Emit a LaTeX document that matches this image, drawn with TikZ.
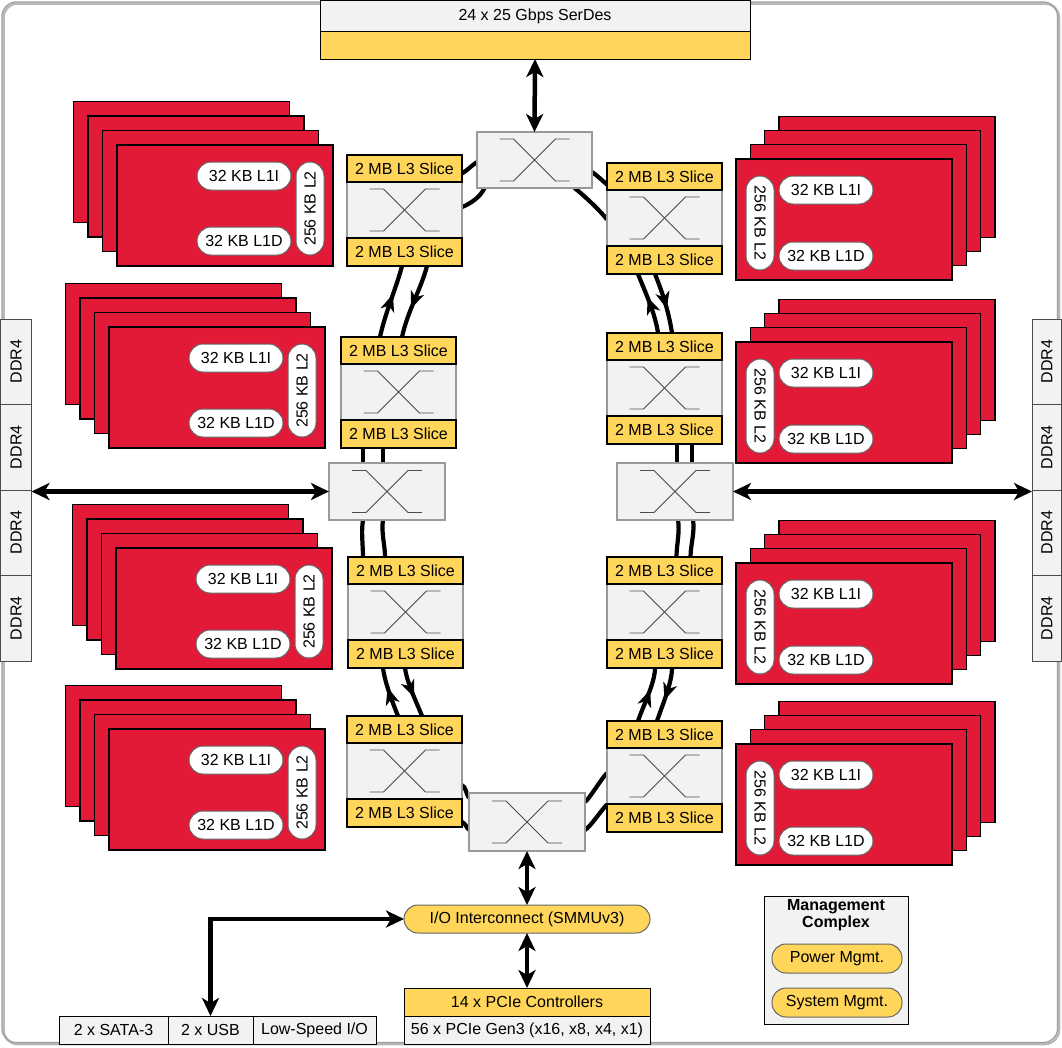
\documentclass[tikz,border=0pt]{standalone}
\usepackage{fontspec}
\setmainfont{Liberation Sans}
\usetikzlibrary{arrows.meta,decorations.markings,calc}
\pgfdeclarelayer{background}
\pgfsetlayers{background,main}
\definecolor{cred}{HTML}{E31A37}
\definecolor{cyel}{HTML}{FFD55A}
\definecolor{cgry}{HTML}{F2F2F2}
\definecolor{cbrd}{HTML}{9A9A9A}
\tikzset{
 base/.style={inner sep=0pt, outer sep=0pt, font=\fontsize{16}{19}\selectfont},
 slicebox/.style={base, draw=black, line width=1.2pt, fill=cyel, minimum width=115pt, minimum height=27pt, anchor=north west},
 swbox/.style={base, draw=cbrd, line width=1.5pt, fill=cgry, anchor=north west},
 corebox/.style={draw=black, line width=1.2pt, fill=cred},
 pill/.style={base, draw=black!60, line width=1pt, fill=white, rounded corners=14pt, minimum width=94pt, minimum height=28pt},
 xline/.style={draw=black!70, line width=0.9pt},
 ring/.style={line width=4.2pt},
 ringarr/.style={ring, postaction={decorate}, decoration={markings, mark=at position 0.6 with {\arrow{Stealth[length=17pt,width=14pt,inset=5pt]}}}},
 bigarr/.style={line width=4.5pt, {Stealth[length=18pt,width=17pt,inset=5pt]}-{Stealth[length=18pt,width=17pt,inset=5pt]}},
 graybox/.style={base, draw=black, line width=1pt, fill=cgry, anchor=north west},
 yelbox/.style={base, draw=black, line width=1pt, fill=cyel, anchor=north west},
 ddr/.style={base, draw=black!70, line width=1pt, fill=cgry, anchor=north west, minimum height=85.5pt},
 yelpill/.style={base, draw=black!60, line width=1pt, fill=cyel, rounded corners=14pt},
}
\newcommand\xsym[1]{%
  \draw[xline] ([shift={(-35,-21)}]#1.center) -- ++(14,0) -- ++(42,42) -- ++(14,0);
  \draw[xline] ([shift={(-35,21)}]#1.center) -- ++(14,0) -- ++(42,-42) -- ++(14,0);
}
\newcommand\slblock[3]{%
  \node[swbox, minimum width=115pt, minimum height=56pt] (#1s) at (#2,#3+27) {};
  \xsym{#1s}
  \node[slicebox] (#1t) at (#2,#3) {2 MB L3 Slice};
  \node[slicebox, minimum height=28pt] (#1b) at (#2,#3+83) {2 MB L3 Slice};
}
\newcommand\coreL[3]{%
  \foreach \k in {3,2,1}{\draw[corebox] ({#2-\k*14.5},{#3-\k*14.5}) rectangle ++(216,121);}
  \node[base, draw=black, line width=1.2pt, fill=cred, anchor=north west, minimum width=216pt, minimum height=121pt] (#1) at (#2,#3) {};
  \node[pill] (#1i) at (#2+127,#3+31) {32 KB L1I};
  \node[pill] (#1d) at (#2+127,#3+96) {32 KB L1D};
  \node[pill, minimum width=93pt, rotate=90] (#1l) at (#2+193,#3+63.5) {256 KB L2};
}
\newcommand\coreR[3]{%
  \foreach \k in {3,2,1}{\draw[corebox] ({#2+\k*14.3},{#3-\k*14.3}) rectangle ++(216,121);}
  \node[base, draw=black, line width=1.2pt, fill=cred, anchor=north west, minimum width=216pt, minimum height=121pt] (#1) at (#2,#3) {};
  \node[pill] (#1i) at (#2+90,#3+31) {32 KB L1I};
  \node[pill] (#1d) at (#2+90,#3+97) {32 KB L1D};
  \node[pill, minimum width=94pt, rotate=-90] (#1l) at (#2+24,#3+64) {256 KB L2};
}
\begin{document}
\begin{tikzpicture}[x=1pt,y=-1pt]
\useasboundingbox (0,0) rectangle (1062,1047);
% frame
\draw[gray!55, line width=2.5pt, rounded corners=14pt] (3.5,3.5) rectangle (1059,1044);
\draw[gray!75, line width=1.2pt, rounded corners=14pt] (2,2) rectangle (1057.5,1042.5);
% SerDes
\node[graybox, minimum width=430pt, minimum height=31pt] (sdt) at (320,0.5) {24 x 25 Gbps SerDes};
\node[yelbox, minimum width=430pt, minimum height=27.5pt] (sdb) at (320,31.5) {};
% switches
\node[swbox, minimum width=115pt, minimum height=56pt] (ts) at (477,132) {}; \xsym{ts}
\node[swbox, minimum width=116pt, minimum height=57pt] (ls) at (329,463) {}; \xsym{ls}
\node[swbox, minimum width=116pt, minimum height=57pt] (rs) at (617,463) {}; \xsym{rs}
\node[swbox, minimum width=116pt, minimum height=58pt] (bs) at (469,793) {}; \xsym{bs}
% slice blocks
\slblock{L1}{347}{155}
\slblock{L2}{341}{337}
\slblock{L3}{348}{557}
\slblock{L4}{347}{716}
\slblock{R1}{607}{163}
\slblock{R2}{607}{333}
\slblock{R3}{607}{557}
\slblock{R4}{607}{721}
% cores
\coreL{CLA}{117}{145}
\coreL{CLB}{109}{327}
\coreL{CLC}{116}{548}
\coreL{CLD}{109}{729}
\coreR{CRA}{736}{159}
\coreR{CRB}{736}{342}
\coreR{CRC}{736}{563}
\coreR{CRD}{736}{744}
% DDR4
\foreach \i in {0,...,3}{
  \node[ddr, minimum width=31pt] (ddrL\i) at (0.5,{319+\i*85.5}) {\rotatebox{90}{DDR4}};
  \node[ddr, minimum width=29.5pt] (ddrR\i) at (1032,{319+\i*85.5}) {\rotatebox{90}{DDR4}};
}
% ring
\begin{pgfonlayer}{background}
\draw[ring] ([shift={(0,2)}]ts.west) .. controls +(-6,4) and +(5,-3) .. ([shift={(0,5)}]L1t.east);
\draw[ring] ([shift={(-50,0)}]ts.south) .. controls +(-4,9) and +(8,-3) .. ([shift={(0,-3)}]L1s.east);
\draw[ring] ([shift={(0,12)}]ts.east) .. controls +(6,4) and +(-5,-4) .. ([shift={(0,8)}]R1t.west);
\draw[ring] ([shift={(40,0)}]ts.south) .. controls +(8,6) and +(-6,-8) .. ([shift={(0,1.5)}]R1s.west);
\draw[ringarr] ([shift={(-18.5,0)}]L2t.north) .. controls +(6,-27) and +(-6,23) .. ([shift={(-2.5,0)}]L1b.south);
\draw[ringarr] ([shift={(22.5,0)}]L1b.south) .. controls +(-6,23) and +(6,-27) .. ([shift={(3.5,0)}]L2t.north);
\draw[ring] ([shift={(-35.5,0)}]L2b.south) -- ([shift={(-24,0)}]ls.north);
\draw[ring] ([shift={(-15.5,0)}]L2b.south) -- ([shift={(-4,0)}]ls.north);
\draw[ring] ([shift={(-24,0)}]ls.south) .. controls +(-2,12) and +(0,-12) .. ([shift={(-42.5,0)}]L3t.north);
\draw[ring] ([shift={(-4,0)}]ls.south) .. controls +(-2,12) and +(0,-12) .. ([shift={(-20.5,0)}]L3t.north);
\draw[ringarr] ([shift={(-6.5,0)}]L4t.north) .. controls +(-6,-15) and +(2,15) .. ([shift={(-22.5,0)}]L3b.south);
\draw[ringarr] ([shift={(-0.5,0)}]L3b.south) .. controls +(2,15) and +(-6,-15) .. ([shift={(17.5,0)}]L4t.north);
\draw[ring] ([shift={(0,14)}]L4s.east) .. controls +(4,2) and +(-3,-4) .. ([shift={(0,5)}]bs.north west);
\draw[ring] ([shift={(0,9)}]L4b.east) .. controls +(4,2) and +(-3,-3) .. ([shift={(0,8)}]bs.west);
\draw[ring] ([shift={(0,-20)}]bs.east) .. controls +(5,-4) and +(-6,6) .. ([shift={(0,-3)}]R4s.west);
\draw[ring] ([shift={(0,8)}]bs.east) .. controls +(6,-4) and +(-6,6) .. ([shift={(0,-13.5)}]R4b.west);
\draw[ringarr] ([shift={(-26.5,0)}]R4t.north) .. controls +(5,-15) and +(0,15) .. ([shift={(-9.5,0)}]R3b.south);
\draw[ringarr] ([shift={(7.5,0)}]R3b.south) .. controls +(0,15) and +(5,-15) .. ([shift={(-7.5,0)}]R4t.north);
\draw[ring] ([shift={(12,0)}]R3t.north) .. controls +(0,-12) and +(2,12) .. ([shift={(3,0)}]rs.south);
\draw[ring] ([shift={(26,0)}]R3t.north) .. controls +(0,-12) and +(2,12) .. ([shift={(18,0)}]rs.south);
\draw[ring] ([shift={(2,0)}]rs.north) -- ([shift={(12.5,0)}]R2b.south);
\draw[ring] ([shift={(17,0)}]rs.north) -- ([shift={(27.5,0)}]R2b.south);
\draw[ringarr] ([shift={(-6.5,0)}]R2t.north) .. controls +(-3,-20) and +(8,20) .. ([shift={(-26.5,0)}]R1b.south);
\draw[ringarr] ([shift={(-9.5,0)}]R1b.south) .. controls +(8,20) and +(-3,-20) .. ([shift={(7.5,0)}]R2t.north);
\end{pgfonlayer}
% bottom
\node[yelpill, minimum width=246pt, minimum height=28pt] (io) at (527,919) {I/O Interconnect (SMMUv3)};
\node[yelbox, minimum width=246pt, minimum height=28pt] (pct) at (404,988) {14 x PCIe Controllers};
\node[graybox, minimum width=246pt, minimum height=28pt] (pcb) at (404,1016) {56 x PCIe Gen3 (x16, x8, x4, x1)};
\node[graybox, minimum width=109pt, minimum height=28pt] (sata) at (59,1016) {2 x SATA-3};
\node[graybox, minimum width=85pt, minimum height=28pt] (usb) at (168,1016) {2 x USB};
\node[graybox, minimum width=123pt, minimum height=28pt] (lsio) at (253,1016) {Low-Speed I/O};
% management
\node[graybox, minimum width=144pt, minimum height=128pt] (mg) at (764,896) {};
\node[base, font=\bfseries\fontsize{16}{17}\selectfont, align=center] (mgt) at (836,915) {Management\\Complex};
\node[yelpill, minimum width=130pt, minimum height=29pt] (pwr) at (837,958.5) {Power Mgmt.};
\node[yelpill, minimum width=130pt, minimum height=29pt] (sysm) at (837,1002.5) {System Mgmt.};
% big arrows
\draw[bigarr] (sdb.south) -- (ts.north);
\draw[bigarr] (ls.west -| ddrL1.east) -- (ls.west);
\draw[bigarr] (rs.east) -- (rs.east -| ddrR1.west);
\draw[bigarr] (bs.south) -- (io.north);
\draw[bigarr] (io.south) -- (pct.north);
\draw[bigarr] (io.west) -| (usb.north);
\end{tikzpicture}
\end{document}
